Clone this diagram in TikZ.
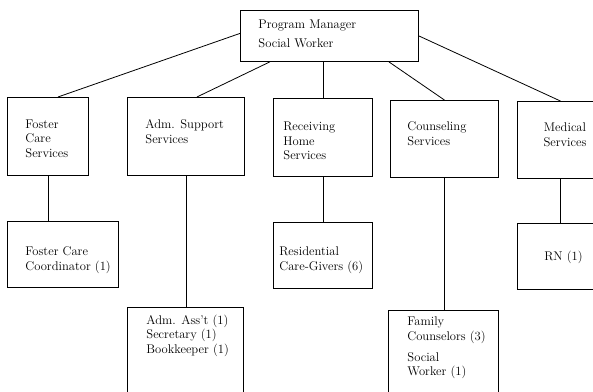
\documentclass[tikz,border=0pt]{standalone}
\usetikzlibrary{positioning}
\usetikzlibrary{calc}

\tikzset{
    unit/.style={draw, rectangle, anchor=north west, inner sep=0pt, line width=0.8pt},
    unittext/.style={anchor=north west, inner sep=0pt, align=left,
        font=\fontsize{12.6}{14.5}\selectfont}
}

\begin{document}
\begin{tikzpicture}[x=1pt, y=-1pt, line width=0.8pt]
    \useasboundingbox (0,0) rectangle (593,391);
    \clip (0,0) rectangle (593,391);

    % top of the chart
    \draw (240,10) node[unit, minimum width=178, minimum height=51] (manager) {};
    \draw (258,19.5) node[unittext, font=\fontsize{12.6}{19}\selectfont] (manager-t) {Program Manager\\Social Worker};

    % services
    \draw (7,97) node[unit, minimum width=81, minimum height=78] (foster) {};
    \draw (25,119.5) node[unittext] (foster-t) {Foster\\Care\\Services};

    \draw (127,97) node[unit, minimum width=117, minimum height=78] (adm) {};
    \draw (145,119.5) node[unittext] (adm-t) {Adm. Support\\Services};

    \draw (273,98) node[unit, minimum width=99, minimum height=78] (receiving) {};
    \draw (283,121.5) node[unittext] (receiving-t) {Receiving\\Home\\Services};

    \draw (390,100) node[unit, minimum width=108, minimum height=77] (counseling) {};
    \draw (407,121.5) node[unittext] (counseling-t) {Counseling\\Services};

    \draw (517,101) node[unit, minimum width=86, minimum height=77] (medical) {};
    \draw (565,122.5) node[unittext, anchor=north, align=center] (medical-t) {Medical\\Services};

    % staff
    \draw (7,221) node[unit, minimum width=111, minimum height=66] (coordinator) {};
    \draw (25,246.5) node[unittext] (coordinator-t) {Foster Care\\Coordinator (1)};

    \draw (127,307) node[unit, minimum width=116, minimum height=100] (assistant) {};
    \draw (146,314.5) node[unittext] (assistant-t) {Adm. Ass't (1)\\Secretary (1)\\Bookkeeper (1)};

    \draw (273,222) node[unit, minimum width=99, minimum height=66] (caregivers) {};
    \draw (279,246.5) node[unittext] (caregivers-t) {Residential\\Care-Givers (6)};

    \draw (388,310) node[unit, minimum width=110, minimum height=100] (counselors) {};
    \draw (407,316.5) node[unittext] (counselors-t) {Family\\Counselors (3)\\[6.5pt]Social\\Worker (1)};

    \draw (517,223) node[unit, minimum width=86, minimum height=66] (nurse) {};
    \draw (544,250.5) node[unittext] (nurse-t) {RN (1)};

    % connectors
    \draw ([yshift=2.5]manager.west) -- ([xshift=10]foster.north);
    \draw ([xshift=30]manager.south west) -- ([xshift=11]adm.north);
    \draw (receiving.north |- manager.south) -- (receiving.north);
    \draw ([xshift=-30]manager.south east) -- (counseling.north);
    \draw (manager.east) -- (medical.north);

    \foreach \upper/\lower in {foster/coordinator, adm/assistant, receiving/caregivers,
                               counseling/counselors, medical/nurse}{
        \draw (\upper.south) -- (\upper.south |- \lower.north);
    }
\end{tikzpicture}
\end{document}
